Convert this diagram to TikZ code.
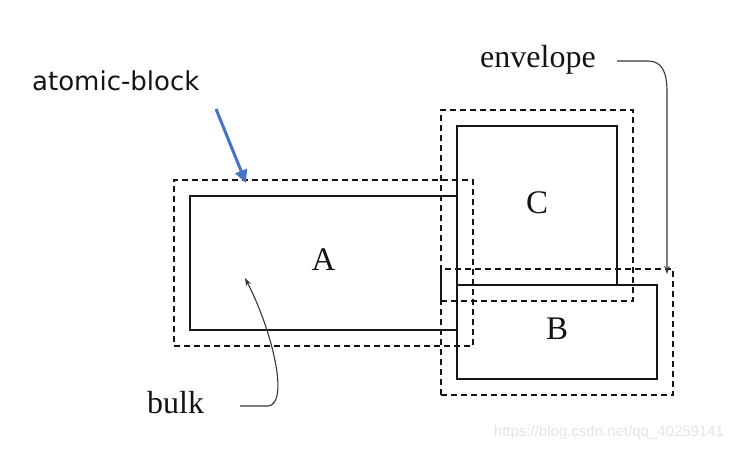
\documentclass[tikz,border=0pt]{standalone}
\usepackage{fontspec}
\setmainfont{Liberation Serif}
\newfontfamily\lblsans{DejaVu Sans}
\newfontfamily\wmfont{Liberation Sans}
\usetikzlibrary{arrows.meta,fit,calc}
\definecolor{inkclr}{RGB}{20,20,20}
\definecolor{bluearr}{RGB}{68,114,196}
\definecolor{wmclr}{RGB}{228,228,228}
\tikzset{
  blk/.style={rectangle,draw=inkclr,line width=1.6pt,outer sep=0pt,
    font=\fontsize{33}{33}\selectfont,text=inkclr,inner sep=0pt,text depth=6pt},
  env/.style={rectangle,draw=inkclr,line width=1.4pt,
    dash pattern=on 6pt off 4pt,inner sep=16pt,outer sep=0pt},
  lbl/.style={font=\fontsize{32}{32}\selectfont,text=inkclr,inner sep=0pt},
  arr/.style={-{Stealth[length=8pt,width=5.5pt]},line width=1.1pt,color=inkclr!85},
  barr/.style={-{Triangle[length=13pt,width=12pt]},line width=3pt,color=bluearr},
}

\begin{document}
\begin{tikzpicture}[x=1pt,y=-1pt]
  \useasboundingbox (0,0) rectangle (739,452);

  %% solid blocks
  \node[blk,minimum width=267pt,minimum height=134pt] (blkA) at (323.5,263) {A};
  \node[blk,minimum width=160pt,minimum height=159pt] (blkC) at (537,205.5) {C};
  \node[blk,minimum width=200pt,minimum height=94pt] (blkB) at (557,332) {B};

  %% dashed envelopes
  \node[env,fit=(blkA)] (envA) {};
  \node[env,fit=(blkC)] (envC) {};
  \node[env,fit=(blkB)] (envB) {};

  %% labels
  \node[lbl,font=\lblsans\fontsize{26}{26}\selectfont,anchor=base west] (atomlbl) at (32,91) {atomic-block};
  \node[lbl,anchor=base west] (envlbl) at (480,67) {envelope};
  \node[lbl,anchor=base west] (bulklbl) at (147,413) {bulk};
  \node[font=\wmfont\fontsize{15}{15}\selectfont,text=wmclr,inner sep=0pt] (wmark) at (609,433) {https://blog.csdn.net/qq\_40259141};

  %% arrows
  \coordinate (atomtail) at (216,109);
  \coordinate (atomtip) at (246,183);
  \draw[barr] (atomtail) -- (atomtip);

  \coordinate (envtail) at (617,61);
  \coordinate (envtip) at (667,274);
  \draw[arr] (envtail) -- (648,61) .. controls (662,61) and (667,72) .. (667,92) -- (envtip);

  \coordinate (bulktail) at (240,406);
  \coordinate (bulktip) at (245,278);
  \draw[arr] (bulktail) -- (268,406) .. controls (290,404) and (272,330) .. (bulktip);
\end{tikzpicture}
\end{document}
